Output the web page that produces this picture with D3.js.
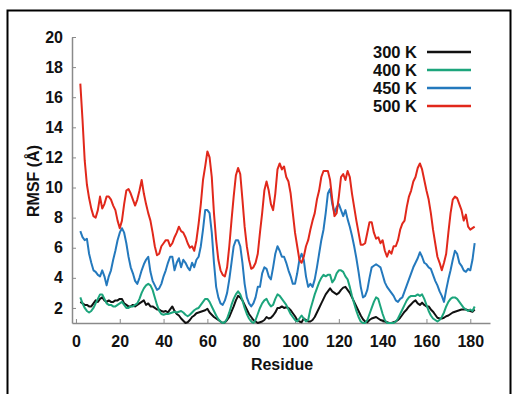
<!DOCTYPE html>
<html>
<head>
<meta charset="utf-8">
<script src="https://cdn.jsdelivr.net/npm/d3@7"></script>
<style>
  html, body { margin: 0; padding: 0; background: #fff; }
  svg { display: block; }
  text { font-family: "Liberation Sans", Arial, sans-serif; font-weight: bold; fill: #111; }
</style>
</head>
<body>
<svg id="chart"></svg>
<script>
// Residue numbers (x), one value per residue in every series
const residues = d3.range(2, 183)

const xTicks = [0, 20, 40, 60, 80, 100, 120, 140, 160, 180]
const yTicks = [2, 4, 6, 8, 10, 12, 14, 16, 18, 20]

const seriesNames = ['300 K', '400 K', '450 K', '500 K']

const rmsf300 = [
    2.4, 2.3, 2.2, 2.2, 2.1, 2.1, 2.3, 2.5, 2.4, 2.6,
    2.7, 2.5, 2.4, 2.5, 2.4, 2.4, 2.5, 2.5, 2.6, 2.6,
    2.3, 2.2, 2.1, 2.1, 2.2, 2.1, 2.2, 2.3, 2.4, 2.5,
    2.2, 2.3, 2.1, 2.1, 2.0, 1.9, 1.9, 1.8, 1.75, 1.8,
    1.7, 1.9, 2.1, 1.8, 1.6, 1.5, 1.3, 1.15, 1.0, 1.05,
    1.2, 1.4, 1.5, 1.65, 1.7, 1.75, 1.8, 1.85, 1.95, 1.7,
    1.55, 1.4, 1.3, 1.2, 1.1, 1.0, 1.05, 1.2, 1.4, 1.75,
    2.1, 2.5, 2.8, 2.7, 2.5, 2.2, 1.9, 1.6, 1.4, 1.2,
    1.1, 1.0, 1.05, 1.1, 1.2, 1.4, 1.3, 1.35, 1.5, 1.7,
    2.0, 2.0, 2.1, 2.0, 2.05, 2.0, 1.85, 1.65, 1.45, 1.2,
    1.1, 1.05, 1.3, 1.2, 1.1, 1.1, 1.2, 1.4, 1.7, 2.0,
    2.3, 2.6, 2.9, 3.1, 3.3, 3.1, 3.0, 2.9, 3.0, 3.2,
    3.35, 3.4, 3.2, 3.0, 2.7, 2.4, 2.1, 1.8, 1.5, 1.25,
    1.1, 1.05, 1.2, 1.3, 1.35, 1.4, 1.3, 1.2, 1.15, 1.1,
    1.05, 1.0, 1.0, 1.05, 1.1, 1.2, 1.35, 1.55, 1.75, 1.9,
    2.1, 2.25, 2.4, 2.5, 2.3, 2.2, 2.35, 2.2, 2.1, 2.1,
    1.9, 1.75, 1.55, 1.35, 1.3, 1.3, 1.35, 1.45, 1.5, 1.6,
    1.7, 1.75, 1.8, 1.85, 1.9, 1.9, 1.9, 1.85, 1.8, 1.75,
    1.9
]

const rmsf400 = [
    2.7, 2.3, 2.0, 1.8, 1.7, 1.8, 2.0, 2.3, 2.6, 2.9,
    2.9, 2.6, 2.3, 2.2, 2.2, 2.1, 2.1, 2.2, 2.3, 2.4,
    2.2, 2.0, 2.0, 2.1, 2.1, 2.2, 2.3, 2.6, 3.0, 3.3,
    3.5, 3.6, 3.5, 3.2, 2.7, 2.2, 1.8, 1.6, 1.55, 1.6,
    1.6, 1.65, 1.7, 1.75, 1.7, 1.75, 1.8, 1.7, 1.55, 1.45,
    1.55, 1.7, 1.85, 1.95, 2.0, 2.2, 2.4, 2.6, 2.6, 2.4,
    2.1, 1.8, 1.5, 1.25, 1.1, 1.0, 1.05, 1.3, 1.7, 2.2,
    2.6, 2.9, 3.1, 2.9, 2.5, 2.0, 1.6, 1.3, 1.1, 1.0,
    1.2, 1.6, 2.0, 2.3, 2.5, 2.6, 2.3, 2.1, 2.2, 2.6,
    2.9, 2.8, 2.6, 2.4, 2.2, 1.9, 1.6, 1.4, 1.2, 1.1,
    1.3, 1.5, 1.3, 1.1, 1.2, 1.9, 2.4, 2.9, 3.3, 3.7,
    4.0, 4.2, 4.1, 4.2, 4.2, 3.7, 3.9, 4.3, 4.5, 4.5,
    4.4, 4.1, 3.9, 3.4, 2.8, 2.3, 1.8, 1.4, 1.1, 1.0,
    1.0, 1.2, 1.6, 2.0, 2.4, 2.7, 2.6, 2.1, 1.6, 1.2,
    1.0, 1.0, 1.0, 1.0, 1.1, 1.3, 1.6, 1.9, 2.2, 2.5,
    2.7, 2.8, 2.8, 2.8, 2.9, 2.8, 2.9, 2.6, 2.2, 1.8,
    1.5, 1.3, 1.2, 1.1, 1.2, 1.4, 1.7, 2.1, 2.4, 2.6,
    2.7, 2.7, 2.6, 2.4, 2.2, 2.0, 1.9, 1.8, 1.9, 1.8,
    2.1
]

const rmsf450 = [
    7.1, 6.7, 6.5, 6.6, 5.6, 5.0, 4.5, 4.4, 4.2, 4.1,
    4.5, 4.1, 3.5, 4.1, 4.5, 5.2, 5.8, 6.5, 7.0, 7.3,
    7.0, 6.3, 5.4, 4.7, 4.3, 3.8, 3.6, 4.0, 4.5, 4.9,
    5.2, 5.4, 4.4, 3.8, 3.5, 3.2, 3.3, 3.6, 4.1, 4.5,
    5.0, 5.4, 5.4, 4.5, 5.0, 5.3, 4.7, 5.2, 5.0, 4.7,
    4.5, 5.0, 4.7, 5.2, 5.4, 6.1, 7.2, 8.5, 8.5, 8.3,
    7.0, 5.0, 3.4, 2.7, 2.3, 2.2, 2.5, 3.0, 3.9, 5.0,
    6.1, 6.5, 6.5, 6.1, 5.0, 3.6, 2.7, 2.3, 2.1, 2.3,
    2.7, 3.4, 3.4, 4.3, 4.7, 4.6, 4.1, 3.9, 4.7, 5.6,
    6.1, 5.8, 5.4, 5.4, 5.0, 4.5, 4.1, 3.6, 3.6, 4.3,
    5.2, 5.6, 5.2, 4.1, 3.4, 3.6, 3.4, 3.9, 4.7, 5.6,
    6.5, 7.2, 8.3, 9.6, 9.9, 8.9, 8.3, 8.7, 8.9, 8.5,
    8.1, 8.5, 7.9, 7.4, 6.8, 6.1, 5.3, 4.4, 3.4, 2.7,
    2.8, 3.2, 4.0, 4.7, 4.8, 4.9, 4.8, 4.7, 4.2, 3.7,
    3.4, 3.2, 3.0, 2.8, 2.5, 2.4, 2.6, 2.7, 3.1, 3.5,
    3.9, 4.3, 4.7, 5.0, 5.3, 5.7, 5.4, 5.0, 4.9, 4.7,
    4.6, 4.2, 3.8, 3.5, 3.1, 2.8, 2.4, 3.2, 3.9, 4.5,
    5.2, 5.8, 5.6, 5.0, 4.8, 4.5, 4.4, 4.6, 4.5, 5.2,
    6.3
]

const rmsf500 = [
    16.9, 14.5, 11.8, 10.2, 9.3, 8.6, 8.1, 8.0, 8.5, 9.4,
    8.6, 8.9, 9.4, 9.4, 9.2, 8.8, 8.5, 7.8, 7.3, 7.8,
    8.9, 9.8, 9.9, 9.6, 9.2, 8.8, 9.2, 9.8, 10.5, 9.6,
    8.9, 8.3, 7.8, 7.0, 6.1, 5.5, 5.6, 6.1, 6.3, 6.5,
    6.5, 6.1, 6.3, 6.7, 7.0, 7.4, 7.1, 7.0, 6.7, 6.3,
    6.0, 6.1, 5.8, 6.5, 7.6, 8.9, 10.5, 11.4, 12.4, 12.0,
    10.7, 8.3, 6.5, 5.2, 4.5, 4.2, 4.1, 4.7, 6.1, 7.8,
    9.4, 10.8, 11.3, 10.9, 9.2, 7.4, 6.1, 5.2, 4.6, 4.7,
    5.0, 5.6, 7.0, 8.3, 9.8, 10.4, 9.8, 8.9, 8.5, 9.6,
    11.2, 11.6, 11.2, 11.4, 10.7, 10.4, 9.6, 8.3, 7.0, 6.1,
    5.2, 5.0, 5.4, 6.1, 6.5, 7.2, 7.8, 8.3, 9.2, 9.8,
    10.7, 11.1, 11.1, 11.1, 10.5, 9.2, 8.1, 8.3, 9.4, 10.7,
    10.9, 10.5, 11.1, 10.7, 9.6, 8.7, 7.8, 7.0, 6.2, 6.2,
    6.3, 7.0, 7.7, 7.7, 7.0, 6.6, 6.7, 6.3, 6.5, 5.8,
    5.4, 5.8, 5.6, 6.1, 6.1, 6.5, 7.2, 7.6, 7.8, 8.7,
    9.4, 9.8, 10.4, 10.7, 11.3, 11.6, 11.2, 10.5, 9.8, 9.2,
    8.3, 7.2, 6.3, 5.4, 5.0, 4.5, 5.0, 5.6, 7.0, 8.3,
    9.2, 9.4, 9.3, 8.9, 8.5, 7.8, 8.2, 7.4, 7.2, 7.3,
    7.4
]

const seriesValues = [rmsf300, rmsf400, rmsf450, rmsf500]
const seriesColors = ['#111111', '#1ca57c', '#2479bd', '#e1281b']

// Measurements
const fullWidth = 513
const fullHeight = 394
const plot = { left: 72, right: 490, top: 37, bottom: 323 }

const svg = d3.select('#chart')
    .attr('width', fullWidth)
    .attr('height', fullHeight)

// Outer frame of the figure
svg.append('rect')
    .attr('x', 7.5)
    .attr('y', 10.5)
    .attr('width', 503)
    .attr('height', 400)
    .attr('fill', 'none')
    .attr('stroke', '#000')
    .attr('stroke-width', 2)

// Scales
const xScale = d3.scaleLinear().domain([-1.8, 189]).range([plot.left, plot.right])
const yScale = d3.scaleLinear().domain([1, 20]).range([plot.bottom, plot.top])

// Axes (gnuplot style: ticks point inward, grey lines)
const xAxis = d3.axisBottom(xScale)
    .tickValues(xTicks)
    .tickSizeInner(-4)
    .tickSizeOuter(0)
    .tickPadding(13)

const yAxis = d3.axisLeft(yScale)
    .tickValues(yTicks)
    .tickSizeInner(-4)
    .tickSizeOuter(0)
    .tickPadding(9)

const gx = svg.append('g')
    .attr('transform', `translate(0, ${plot.bottom})`)
    .call(xAxis)

const gy = svg.append('g')
    .attr('transform', `translate(${plot.left}, 0)`)
    .call(yAxis)

for (const g of [gx, gy]) {
    g.select('.domain').attr('stroke', '#8a8a8a').attr('stroke-width', 1.5)
    g.selectAll('.tick line').attr('stroke', '#8a8a8a').attr('stroke-width', 1)
    g.selectAll('.tick text')
        .attr('fill', '#111')
        .style('font-family', '"Liberation Sans", Arial, sans-serif')
        .style('font-weight', 'bold')
        .style('font-size', '16px')
}

// Series lines
const line = d3.line()
    .x((d, i) => xScale(residues[i]))
    .y(d => yScale(d))

svg.append('g')
    .selectAll('path')
    .data(seriesValues)
    .enter()
    .append('path')
        .attr('d', line)
        .attr('fill', 'none')
        .attr('stroke', (d, i) => seriesColors[i])
        .attr('stroke-width', 2)
        .attr('stroke-linejoin', 'round')

// Legend
const legend = svg.append('g')
    .selectAll('g')
    .data(seriesNames)
    .enter()
    .append('g')
        .attr('transform', (d, i) => `translate(0, ${52 + i * 18})`)

legend.append('text')
    .attr('x', 417)
    .attr('y', 6)
    .attr('text-anchor', 'end')
    .style('font-size', '16.5px')
    .text(d => d)

legend.append('line')
    .attr('x1', 427)
    .attr('x2', 471)
    .attr('stroke', (d, i) => seriesColors[i])
    .attr('stroke-width', 2.5)

// Axis titles
svg.append('text')
    .attr('x', 282)
    .attr('y', 370)
    .attr('text-anchor', 'middle')
    .style('font-size', '16px')
    .text('Residue')

svg.append('text')
    .attr('transform', 'translate(39, 181) rotate(-90)')
    .attr('text-anchor', 'middle')
    .style('font-size', '16px')
    .text('RMSF (Å)')
</script>
</body>
</html>
